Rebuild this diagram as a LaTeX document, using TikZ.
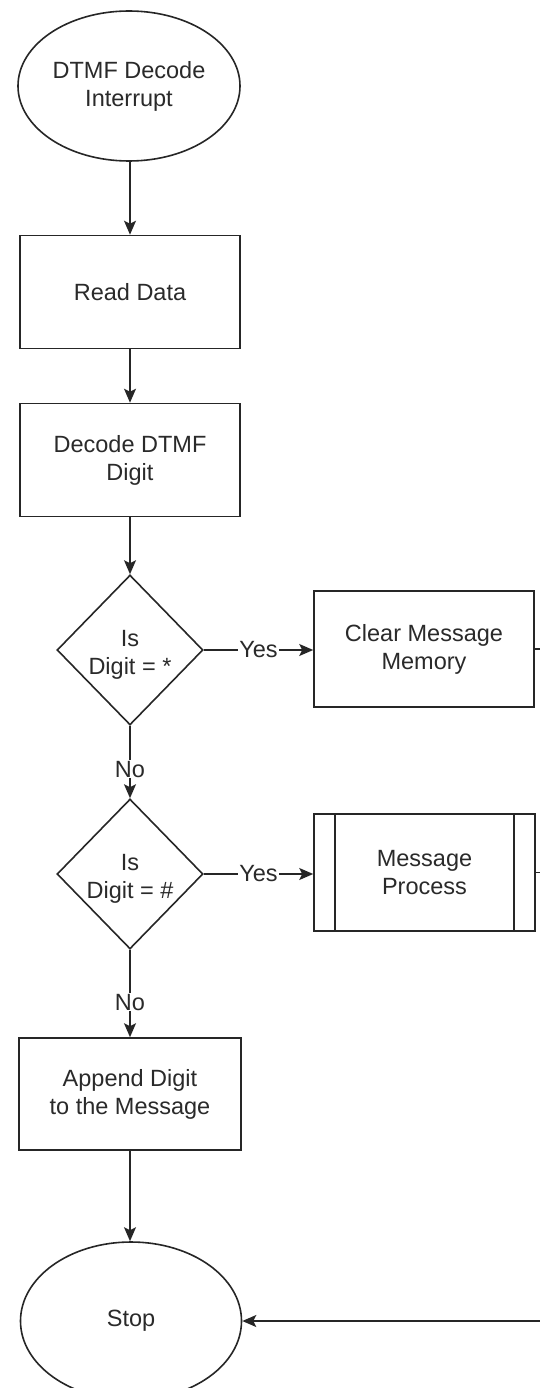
\documentclass[tikz,border=0pt]{standalone}
\usepackage{fontspec}
\setmainfont{Liberation Sans}
\usetikzlibrary{shapes.geometric,arrows.meta}
\definecolor{ink}{HTML}{262626}
\definecolor{txt}{HTML}{2A2A2A}
\begin{document}
\begin{tikzpicture}[x=1pt,y=-1pt,
  every node/.style={text=txt,font=\fontsize{23.5}{28}\selectfont,align=center},
  line/.style={draw=ink,line width=1.6pt},
  arr/.style={line,-{Stealth[length=14pt,width=12pt,inset=3pt]}},
  term/.style={line,ellipse,minimum width=222pt,minimum height=150pt,inner sep=0pt},
  procbox/.style={line,rectangle,minimum width=220pt,minimum height=113pt,inner sep=0pt},
  decide/.style={line,diamond,minimum width=146pt,minimum height=150pt,inner sep=0pt},
  lbl/.style={fill=white,inner sep=1pt}]
\fill[white] (0,0) rectangle (540,1388);
\clip (0,0) rectangle (540,1388);

\node[term] (start) at (129,86) {DTMF Decode\\Interrupt};
\node[procbox] (read) at (130,292) {Read Data};
\node[procbox] (decode) at (130,460) {Decode DTMF\\Digit};
\node[decide,label={[text=txt,yshift=-5pt]center:Is\\Digit = *}] (d1) at (130,650) {};
\node[procbox,minimum height=116pt] (clear) at (424,649) {Clear Message\\Memory};
\node[decide,label={[text=txt,yshift=-5pt]center:Is\\Digit = \#}] (d2) at (130,874) {};
\node[procbox,minimum width=221pt,minimum height=117pt] (msg) at (424.5,872.5) {Message\\Process};
\node[procbox,minimum width=222pt,minimum height=112pt] (append) at (130,1094) {Append Digit\\to the Message};
\node[term,minimum width=221pt,minimum height=158pt] (stop) at (131,1321) {Stop};

\coordinate (c1) at (545,649);
\coordinate (c2) at (545,872.5);
\coordinate (c3) at (545,1321);

\draw[line] ([xshift=22pt]msg.north west) -- ([xshift=22pt]msg.south west);
\draw[line] ([xshift=-22pt]msg.north east) -- ([xshift=-22pt]msg.south east);

\draw[arr] (start.south -| read.north) -- (read.north);
\draw[arr] (read.south) -- (decode.north);
\draw[arr] (decode.south) -- (d1.north);
\draw[arr] (d1.east) -- node[lbl]{Yes} (d1.east -| clear.west);
\draw[arr] (d1.south) -- node[lbl,pos=0.6]{No} (d2.north);
\draw[arr] (d2.east) -- node[lbl]{Yes} (d2.east -| msg.west);
\draw[arr] (d2.south) -- node[lbl,pos=0.6]{No} (append.north);
\draw[arr] (append.south) -- (append.south |- stop.north);
\draw[line] (clear.east) -- (c1);
\draw[line] (msg.east) -- (c2);
\draw[arr] (c3) -- (stop.east);
\end{tikzpicture}
\end{document}
